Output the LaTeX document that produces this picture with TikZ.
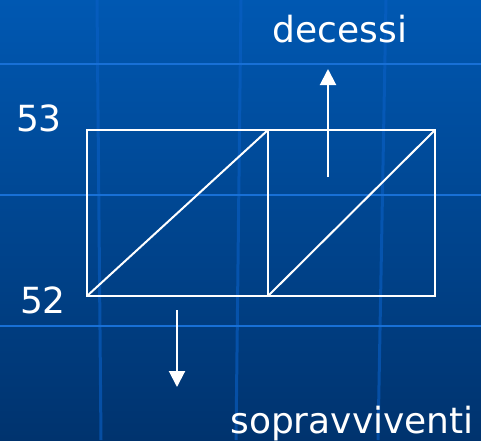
\documentclass[tikz,border=0pt]{standalone}
\usepackage{fontspec}
\setmainfont{DejaVu Sans}
\usetikzlibrary{arrows.meta}
\definecolor{bgtop}{HTML}{0058B2}
\definecolor{bgbot}{HTML}{00336E}
\definecolor{gridh}{HTML}{1870D6}
\definecolor{gridv}{HTML}{0A60C6}
\tikzset{
  lbl/.style={text=white, font=\fontsize{36}{36}\selectfont, anchor=base, inner sep=0pt},
  wline/.style={draw=white, line width=2pt},
  warrow/.style={draw=white, line width=2pt, -{Triangle[width=16pt,length=16pt]}},
  hgrid/.style={draw=gridh, line width=2.5pt},
  vgrid/.style={draw=gridv, line width=3pt, opacity=0.6}
}
\begin{document}
\begin{tikzpicture}[x=1pt,y=-1pt]
\shade[top color=bgtop, bottom color=bgbot] (0,0) rectangle (481,440);
\useasboundingbox (0,0) rectangle (481,440);
% background grid
\draw[vgrid] (97,0) -- (101,440);
\draw[vgrid] (241,0) -- (236,440);
\draw[vgrid] (386,0) -- (378,440);
\draw[hgrid] (0,64) -- (481,64);
\draw[hgrid] (0,195) -- (481,195);
\draw[hgrid] (0,326) -- (481,326);
% box corners
\coordinate (tl) at (87,130);
\coordinate (tm) at (268,130);
\coordinate (tr) at (435,130);
\coordinate (bl) at (87,296);
\coordinate (bm) at (268,296);
\coordinate (br) at (435,296);
\draw[wline] (tl) -- (tr) -- (br) -- (bl) -- cycle;
\draw[wline] (tm) -- (bm);
\draw[wline] (bl) -- (tm);
\draw[wline] (bm) -- (tr);
% arrows
\coordinate (ua) at (328,177);
\coordinate (ub) at (328,69);
\coordinate (da) at (177,310);
\coordinate (db) at (177,387);
\draw[warrow] (ua) -- (ub);
\draw[warrow] (da) -- (db);
% labels
\node[lbl] (dec) at (340,42) {decessi};
\node[lbl] (n53) at (39,131) {53};
\node[lbl] (n52) at (43,313) {52};
\node[lbl] (sop) at (352,433) {sopravviventi};
\end{tikzpicture}
\end{document}
